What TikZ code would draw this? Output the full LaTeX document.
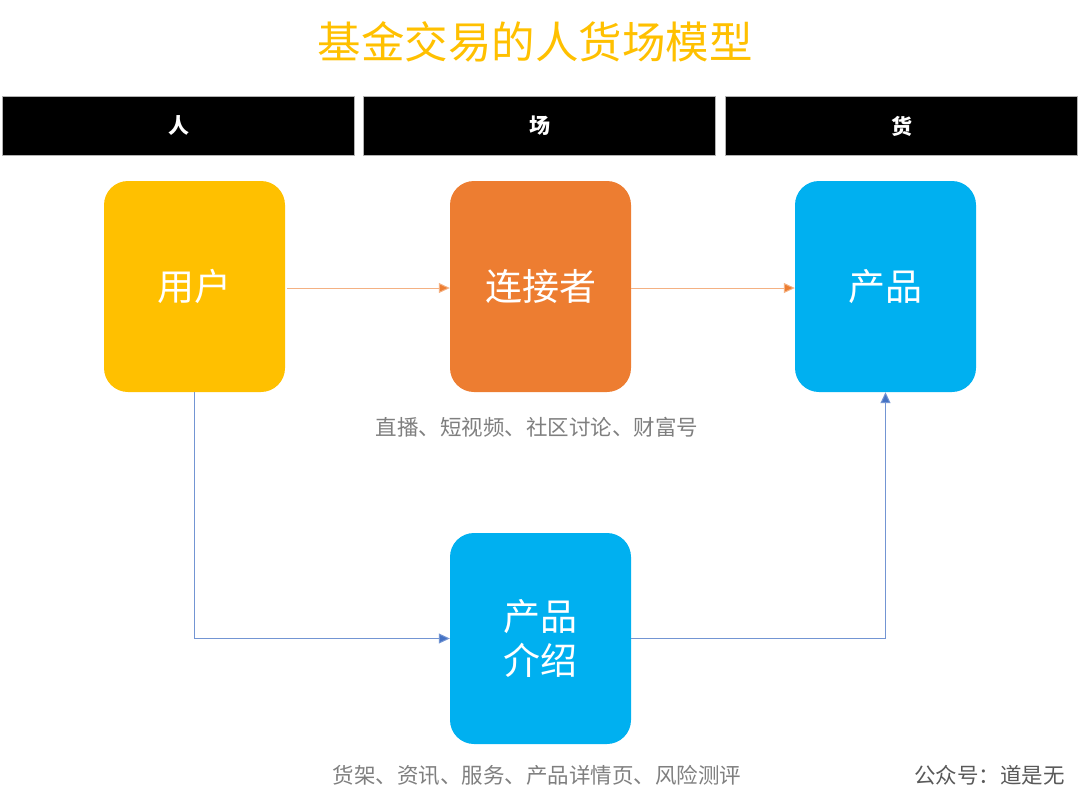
\documentclass[tikz,border=0pt]{standalone}
\usepackage{fontspec}
\setmainfont{Noto Sans CJK SC}
\usetikzlibrary{arrows.meta}
\definecolor{ttl}{HTML}{FFC000}
\definecolor{cy}{HTML}{FFC000}
\definecolor{co}{HTML}{ED7D31}
\definecolor{cb}{HTML}{00B0F0}
\definecolor{lb}{HTML}{4472C4}
\definecolor{gt}{HTML}{7F7F7F}
\tikzset{
  hdr/.style={fill=black, draw=gray!60, line width=0.8pt, minimum width=352pt, minimum height=59pt, inner sep=0pt, text=white, font=\fontsize{21}{24}\selectfont\bfseries},
  card/.style={rounded corners=24pt, minimum width=181pt, minimum height=211pt, inner sep=0pt, text=white, align=center, font=\fontsize{37}{44}\selectfont},
  captxt/.style={text=gt, font=\fontsize{21.5}{26}\selectfont, inner sep=0pt},
  oarr/.style={draw=co!60, line width=1pt, -{Triangle[length=11pt,width=10pt,fill=co]}},
  barr/.style={draw=lb!75, line width=1pt, -{Triangle[length=11pt,width=10pt,fill=lb]}}
}
\begin{document}
\begin{tikzpicture}[x=1pt,y=-1pt]
\useasboundingbox (0,0) rectangle (1080,801);
\node[text=ttl, font=\fontsize{43.5}{50}\selectfont, inner sep=0pt] (title) at (535,42) {基金交易的人货场模型};
\node[hdr] (h1) at (178.5,126) {人};
\node[hdr] (h2) at (539.5,126) {场};
\node[hdr] (h3) at (901.5,126) {货};
\node[card, fill=cy] (user) at (194.5,286.5) {用户};
\node[card, fill=co] (conn) at (540.5,286.5) {连接者};
\node[card, fill=cb] (prod) at (885.5,286.5) {产品};
\node[card, fill=cb] (intro) at (540.5,638.5) {产品\\介绍};
\node[captxt] (c1) at (537,427) {直播、短视频、社区讨论、财富号};
\node[captxt] (c2) at (537,775) {货架、资讯、服务、产品详情页、风险测评};
\node[captxt, text=black!65, anchor=east] (c3) at (1065,775) {公众号：道是无};
\draw[oarr] ([xshift=2pt]user.east |- 0,288) -- (conn.west |- 0,288);
\draw[oarr] (conn.east |- 0,288) -- (prod.west |- 0,288);
\draw[barr] (user.south) |- (intro.west);
\draw[barr] (intro.east) -| (prod.south);
\end{tikzpicture}
\end{document}
